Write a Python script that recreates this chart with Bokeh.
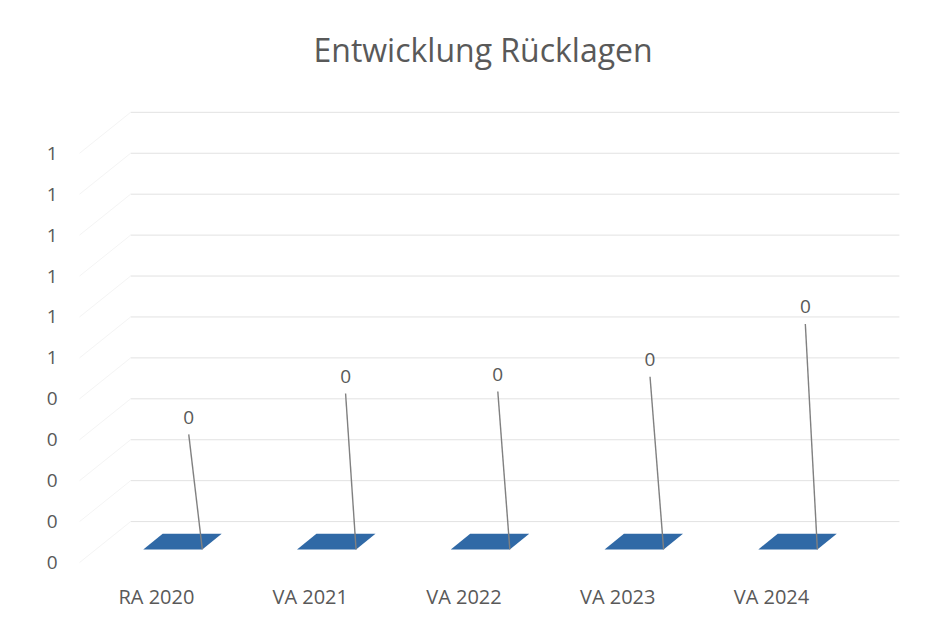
import numpy as np
from bokeh.plotting import figure
from bokeh.models import FixedTicker, ColumnDataSource, Range1d
from bokeh.core.properties import value
from bokeh.embed import file_html
from bokeh.resources import INLINE

# ---------------- data ----------------
title_text = "Entwicklung Rücklagen"
categories = ["RA 2020", "VA 2021", "VA 2022", "VA 2023", "VA 2024"]
values = [0, 0, 0, 0, 0]
data_labels = ["0", "0", "0", "0", "0"]
y_ticks = [0.0, 0.1, 0.2, 0.3, 0.4, 0.5, 0.6, 0.7, 0.8, 0.9, 1.0]
y_tick_labels = ["0", "0", "0", "0", "0", "1", "1", "1", "1", "1", "1"]

# ---------------- layout (hand-moved data labels, 3D depth) ----------------
label_dx = [0.21, 0.23, 0.22, 0.21, 0.22]        # category units
label_lift = [0.355, 0.455, 0.46, 0.496, 0.625]  # value units above bar top
DX, DY = 0.332, 0.10      # full depth offset of back wall
HW = 0.192                # half bar width
D0, D1 = 0.32, 0.70       # bar depth band
TXT = "#595959"
FONT = "Open Sans"

x = np.arange(len(categories), dtype=float)
v = np.array(values, dtype=float)

p = figure(width=928, height=612, output_backend="svg", toolbar_location=None,
           x_range=Range1d(-0.611, 4.969), y_range=Range1d(-0.0195, 1.19),
           min_border_left=62, min_border_right=8, min_border_top=75,
           min_border_bottom=40, background_fill_color="white",
           border_fill_color="white")
p.outline_line_color = None
p.xgrid.visible = False
p.ygrid.visible = False

p.title.text = title_text
p.title.align = "left"
p.title.offset = 251
p.title.text_font = FONT
p.title.text_font_size = "32px"
p.title.text_font_style = "normal"
p.title.text_color = TXT

# back wall gridlines and faint side wall lines
t = np.array(y_ticks)
p.segment(x0=np.full_like(t, -0.5 + DX), y0=t + DY, x1=np.full_like(t, 4.5 + DX), y1=t + DY,
          line_color="#e2e2e2", line_width=1)
p.segment(x0=np.full_like(t, -0.5), y0=t, x1=np.full_like(t, -0.5 + DX), y1=t + DY,
          line_color="#f4f4f4", line_width=1)

# 3D bars: front face, right side face, top face
front_xs, front_ys, side_xs, side_ys, top_xs, top_ys = [], [], [], [], [], []
for xi, vi in zip(x, v):
    xl0, xr0 = xi - HW + D0 * DX, xi + HW + D0 * DX
    xl1, xr1 = xi - HW + D1 * DX, xi + HW + D1 * DX
    y0, y1 = D0 * DY, D1 * DY
    front_xs.append([xl0, xr0, xr0, xl0]); front_ys.append([y0, y0, y0 + vi, y0 + vi])
    side_xs.append([xr0, xr1, xr1, xr0]); side_ys.append([y0, y1, y1 + vi, y0 + vi])
    top_xs.append([xl0, xr0, xr1, xl1]); top_ys.append([y0 + vi, y0 + vi, y1 + vi, y1 + vi])
p.patches(front_xs, front_ys, fill_color="#2F6AA6", line_color=None)
p.patches(side_xs, side_ys, fill_color="#24568C", line_color=None)
p.patches(top_xs, top_ys, fill_color="#3069A6", line_color=None)

# data labels with leader lines
lx = x + np.array(label_dx)
ly = v + np.array(label_lift)
p.segment(x0=lx, y0=ly - 0.042, x1=x + HW + D0 * DX, y1=v + D0 * DY,
          line_color="#808080", line_width=1.4)
src = ColumnDataSource(dict(x=lx, y=ly, t=data_labels))
p.text(x="x", y="y", text="t", source=src, text_align="center", text_baseline="middle",
       text_font=value(FONT), text_font_size="19px", text_color=TXT)

# axes
p.yaxis.ticker = FixedTicker(ticks=y_ticks)
p.yaxis.major_label_overrides = {tk: lb for tk, lb in zip(y_ticks, y_tick_labels)}
p.xaxis.ticker = FixedTicker(ticks=list(x))
p.xaxis.major_label_overrides = {float(i): c for i, c in zip(x, categories)}
for ax in (p.xaxis, p.yaxis):
    ax.axis_line_color = None
    ax.major_tick_line_color = None
    ax.minor_tick_line_color = None
    ax.major_tick_out = 0
    ax.major_label_text_font = FONT
    ax.major_label_text_font_size = "19px"
    ax.major_label_text_color = TXT
p.yaxis.major_label_standoff = 5
p.xaxis.major_label_standoff = 12
p.xaxis.major_label_text_font_size = "20px"

open("out.html", "w").write(file_html(p, INLINE))
